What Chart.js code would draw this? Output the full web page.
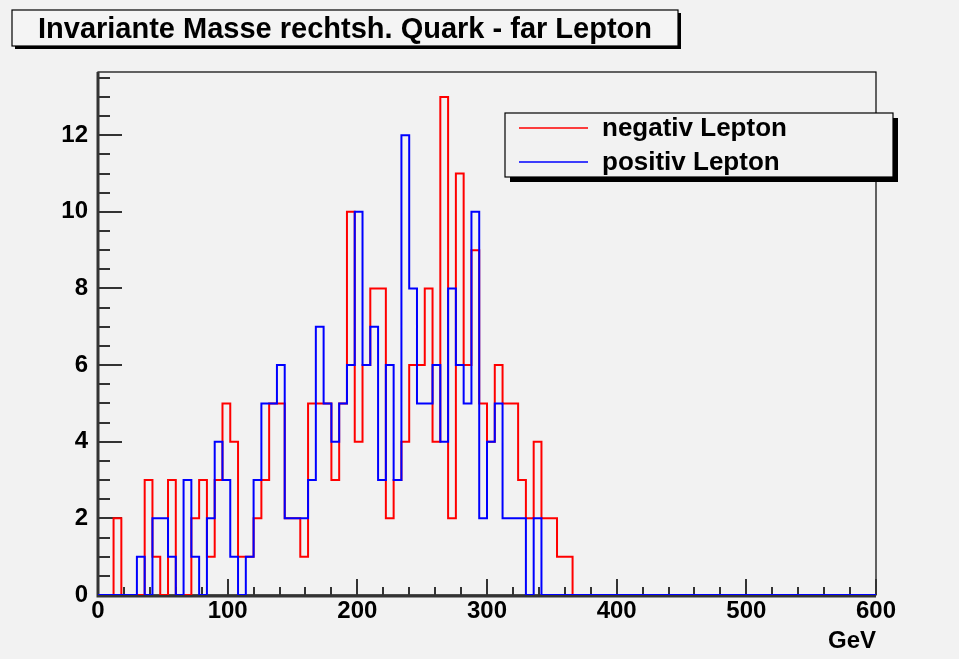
<!DOCTYPE html>
<html><head><meta charset="utf-8">
<script src="https://cdn.jsdelivr.net/npm/chart.js@4.4.1/dist/chart.umd.min.js"></script>
<style>html,body{margin:0;padding:0;background:#f2f2f2;overflow:hidden}#wrap{width:959px;height:659px;position:relative}</style>
</head><body><div id="wrap"><canvas id="c" width="959" height="659"></canvas></div>
<script>
const chartTitle = "Invariante Masse rechtsh. Quark - far Lepton";
const xAxisTitle = "GeV";
const seriesNames = ["negativ Lepton", "positiv Lepton"];
const seriesColors = ["#ff0000", "#0000ff"];
const binWidth = 6;
const xMin = 0;
const xMax = 600;
const yMax = 13.65;
const xTickLabels = [0, 100, 200, 300, 400, 500, 600];
const yTickLabels = [0, 2, 4, 6, 8, 10, 12];
const xMinorStep = 20;
const yMinorStep = 0.5;

// counts per 6 GeV bin, bins 0..99
const negativCounts = [
  0,0,2,0,0,0,3,1,0,3,
  0,0,2,3,1,3,5,4,1,1,
  2,3,5,5,2,2,1,5,5,5,
  3,5,10,4,6,8,8,2,3,4,
  6,6,8,4,13,2,11,6,9,5,
  4,6,5,5,3,2,4,2,2,1,
  1,0,0,0,0,0,0,0,0,0,
  0,0,0,0,0,0,0,0,0,0,
  0,0,0,0,0,0,0,0,0,0,
  0,0,0,0,0,0,0,0,0,0
];
const positivCounts = [
  0,0,0,0,0,1,0,2,2,1,
  0,3,1,0,2,4,3,1,0,1,
  3,5,5,6,2,2,2,3,7,5,
  4,5,6,10,6,7,3,6,3,12,
  8,5,5,6,4,8,6,5,10,2,
  4,5,2,2,2,0,2,0,0,0,
  0,0,0,0,0,0,0,0,0,0,
  0,0,0,0,0,0,0,0,0,0,
  0,0,0,0,0,0,0,0,0,0,
  0,0,0,0,0,0,0,0,0,0
];

const FONT = "'Liberation Sans', Arial, Helvetica, sans-serif";

function histPoints(counts) {
  const pts = counts.map((c, i) => ({ x: xMin + i * binWidth, y: c }));
  pts.push({ x: xMin + counts.length * binWidth, y: counts[counts.length - 1] });
  return pts;
}

const framePlugin = {
  id: 'rootFrame',
  beforeDatasetsDraw(chart) {
    const ctx = chart.ctx, ca = chart.chartArea;
    const xs = chart.scales.x, ys = chart.scales.y;
    ctx.save();
    // frame
    ctx.strokeStyle = '#000';
    ctx.lineWidth = 1.2;
    ctx.strokeRect(ca.left, ca.top, ca.right - ca.left, ca.bottom - ca.top);
    // y ticks (inside)
    ctx.strokeStyle = '#333';
    ctx.lineWidth = 2;
    for (let v = 0; v <= yMax + 1e-9; v += yMinorStep) {
      const y = Math.round(ys.getPixelForValue(v)) + 0.0;
      const major = yTickLabels.includes(Math.round(v * 100) / 100);
      ctx.beginPath();
      ctx.moveTo(ca.left, y);
      ctx.lineTo(ca.left + (major ? 24 : 12), y);
      ctx.stroke();
    }
    // x ticks (inside)
    for (let v = xMin; v <= xMax + 1e-9; v += xMinorStep) {
      const x = Math.round(xs.getPixelForValue(v));
      const major = xTickLabels.includes(v);
      ctx.beginPath();
      ctx.moveTo(x, ca.bottom);
      ctx.lineTo(x, ca.bottom - (major ? 16 : 8));
      ctx.stroke();
    }
    // axis lines
    ctx.strokeStyle = '#333';
    ctx.lineWidth = 3;
    ctx.beginPath();
    ctx.moveTo(ca.left, ca.top);
    ctx.lineTo(ca.left, ca.bottom + 1);
    ctx.lineTo(ca.right, ca.bottom + 1);
    ctx.stroke();
    ctx.restore();
  },
  afterDraw(chart) {
    const ctx = chart.ctx, ca = chart.chartArea;
    ctx.save();
    // Title box
    const tb = { x: 12, y: 10, w: 666, h: 36 };
    ctx.fillStyle = '#000';
    ctx.fillRect(tb.x + 3, tb.y + 3, tb.w, tb.h);
    ctx.fillStyle = '#f4f4f4';
    ctx.fillRect(tb.x, tb.y, tb.w, tb.h);
    ctx.strokeStyle = '#000';
    ctx.lineWidth = 1.2;
    ctx.strokeRect(tb.x, tb.y, tb.w, tb.h);
    ctx.fillStyle = '#000';
    ctx.font = 'bold 29px ' + FONT;
    ctx.textAlign = 'center';
    ctx.textBaseline = 'alphabetic';
    ctx.fillText(chartTitle, tb.x + tb.w / 2, 38);

    // Legend box
    const lb = { x: 505, y: 113, w: 388, h: 64 };
    ctx.fillStyle = '#000';
    ctx.fillRect(lb.x + 5, lb.y + 5, lb.w, lb.h);
    ctx.fillStyle = '#f2f2f2';
    ctx.fillRect(lb.x, lb.y, lb.w, lb.h);
    ctx.strokeStyle = '#000';
    ctx.lineWidth = 1.2;
    ctx.strokeRect(lb.x, lb.y, lb.w, lb.h);
    const ds = chart.data.datasets;
    const rows = [128, 162];
    ds.forEach((d, i) => {
      ctx.strokeStyle = d.borderColor;
      ctx.lineWidth = 1.5;
      ctx.beginPath();
      ctx.moveTo(519, rows[i]);
      ctx.lineTo(588, rows[i]);
      ctx.stroke();
      ctx.fillStyle = '#000';
      ctx.font = 'bold 26px ' + FONT;
      ctx.textAlign = 'left';
      ctx.textBaseline = 'middle';
      ctx.fillText(d.label, 602, rows[i] + 1);
    });

    // x axis title
    ctx.fillStyle = '#000';
    ctx.font = 'bold 24px ' + FONT;
    ctx.textAlign = 'right';
    ctx.textBaseline = 'alphabetic';
    ctx.fillText(xAxisTitle, ca.right, 648);
    ctx.restore();
  }
};

new Chart(document.getElementById('c'), {
  type: 'line',
  data: {
    datasets: [
      { label: seriesNames[0], data: histPoints(negativCounts), borderColor: seriesColors[0],
        borderWidth: 2, pointRadius: 0, stepped: true, fill: false, order: 2, tension: 0 },
      { label: seriesNames[1], data: histPoints(positivCounts), borderColor: seriesColors[1],
        borderWidth: 2, pointRadius: 0, stepped: true, fill: false, order: 1, tension: 0 }
    ]
  },
  options: {
    responsive: false,
    animation: false,
    devicePixelRatio: 1,
    layout: { padding: { left: 0, right: 83, top: 72, bottom: 0 } },
    plugins: { legend: { display: false }, title: { display: false }, tooltip: { enabled: false } },
    scales: {
      x: {
        type: 'linear', min: xMin, max: xMax,
        afterBuildTicks: s => { s.ticks = xTickLabels.map(v => ({ value: v })); },
        afterFit: s => { s.height = 64; },
        ticks: { font: { family: FONT, size: 24, weight: 'bold' }, color: '#000', padding: 2, maxRotation: 0, autoSkip: false },
        grid: { display: false, drawTicks: false },
        border: { display: false }
      },
      y: {
        type: 'linear', min: 0, max: yMax,
        afterBuildTicks: s => { s.ticks = yTickLabels.map(v => ({ value: v })); },
        afterFit: s => { s.width = 98; },
        ticks: { font: { family: FONT, size: 24, weight: 'bold' }, color: '#000', padding: 10, autoSkip: false },
        grid: { display: false, drawTicks: false },
        border: { display: false }
      }
    }
  },
  plugins: [framePlugin]
});
</script>
</body></html>
